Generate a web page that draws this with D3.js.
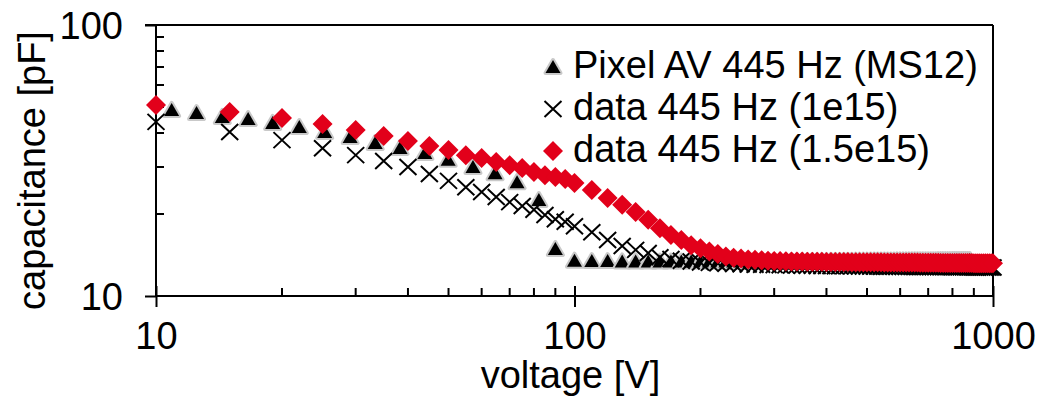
<!DOCTYPE html>
<html>
<head>
<meta charset="utf-8">
<script src="https://cdn.jsdelivr.net/npm/d3@7"></script>
<style>
  body { margin: 0; background: #fff; }
  svg { display: block; }
  text { font-family: "Liberation Sans", Arial, sans-serif; fill: #000; }
</style>
</head>
<body>
<svg id="chart" width="1049" height="406"></svg>
<script>
// ---- data -------------------------------------------------------------
const seriesNames = ["Pixel AV 445 Hz (MS12)", "data 445 Hz (1e15)", "data 445 Hz (1.5e15)"];
const xTickLabels = ["10", "100", "1000"];
const yTickLabels = ["10", "100"];
const xMajorTicks = [10, 100, 1000];
const xMinorTicks = [20, 30, 40, 50, 60, 70, 80, 90, 200, 300, 400, 500, 600, 700, 800, 900];
const yMajorTicks = [10, 100];
const yMinorTicks = [20, 30, 40, 50, 60, 70, 80, 90];

// measured pixel (MS12) sweep
const pixelVoltage = [
  10.9, 12.5, 14.4, 16.6, 19.0, 22.0, 25.3, 29.1, 33.4, 38.3, 43.9, 49.9, 57.2, 64.6, 72.9, 82.2,
  90, 100, 110, 120, 130, 140, 150, 160, 170, 180,
  190, 200, 210, 220, 230, 240, 250, 260, 270, 280,
  290, 300, 310, 320, 330, 340, 350, 360, 370, 380,
  390, 400, 410, 420, 430, 440, 450, 460, 470, 480,
  490, 500, 510, 520, 530, 540, 550, 560, 570, 580,
  590, 600, 610, 620, 630, 640, 650, 660, 670, 680,
  690, 700, 710, 720, 730, 740, 750, 760, 770, 780,
  790, 800, 810, 820, 830, 840, 850, 860, 870, 880
];
const pixelCap = [
  48.6, 47.3, 45.8, 45.0, 43.5, 42.0, 40.3, 38.6, 36.7, 35.2, 33.7, 31.8, 29.9, 28.4, 26.3, 22.6,
  14.9, 13.5, 13.45, 13.45, 13.42, 13.42, 13.4, 13.4, 13.4, 13.4,
  13.4, 13.41, 13.4, 13.41, 13.42, 13.42, 13.42, 13.43, 13.43, 13.43,
  13.44, 13.44, 13.44, 13.45, 13.45, 13.45, 13.46, 13.46, 13.46, 13.47,
  13.47, 13.47, 13.48, 13.48, 13.48, 13.49, 13.49, 13.49, 13.5, 13.5,
  13.5, 13.5, 13.51, 13.51, 13.51, 13.51, 13.52, 13.52, 13.52, 13.52,
  13.53, 13.53, 13.53, 13.53, 13.53, 13.54, 13.54, 13.54, 13.54, 13.54,
  13.55, 13.55, 13.55, 13.55, 13.55, 13.56, 13.56, 13.56, 13.56, 13.56,
  13.56, 13.57, 13.57, 13.57, 13.57, 13.57, 13.57, 13.58, 13.58, 13.58
];

// simulated sweeps (shared voltage grid)
const dataVoltage = [
  10, 15, 20, 25, 30, 35, 40, 45, 50, 55, 60, 65, 70, 75, 80, 85, 90, 95,
  100, 110, 120, 130, 140, 150, 160, 170, 180, 190, 200,
  210, 220, 230, 240, 250, 260, 270, 280, 290, 300,
  310, 320, 330, 340, 350, 360, 370, 380, 390, 400,
  410, 420, 430, 440, 450, 460, 470, 480, 490, 500,
  510, 520, 530, 540, 550, 560, 570, 580, 590, 600,
  610, 620, 630, 640, 650, 660, 670, 680, 690, 700,
  710, 720, 730, 740, 750, 760, 770, 780, 790, 800,
  810, 820, 830, 840, 850, 860, 870, 880, 890, 900,
  910, 920, 930, 940, 950, 960, 970, 980, 990, 1000
];
const cap1e15 = [
  43.9, 40.3, 37.6, 35.1, 33.1, 31.5, 29.9, 28.2, 26.6, 25.2, 24.2, 23.2, 22.2, 21.5, 20.8, 19.9, 19.2, 18.8,
  18.1, 17.2, 16.1, 15.3, 14.8, 14.4, 13.9, 13.7, 13.5, 13.4, 13.3,
  13.25, 13.2, 13.15, 13.12, 13.1, 13.07, 13.05, 13.03, 13.01, 13.0,
  12.98, 12.97, 12.96, 12.95, 12.94, 12.93, 12.92, 12.91, 12.9, 12.9,
  12.89, 12.88, 12.88, 12.87, 12.87, 12.86, 12.86, 12.85, 12.85, 12.85,
  12.84, 12.84, 12.84, 12.83, 12.83, 12.83, 12.82, 12.82, 12.82, 12.82,
  12.81, 12.81, 12.81, 12.81, 12.8, 12.8, 12.8, 12.8, 12.8, 12.79,
  12.79, 12.79, 12.79, 12.79, 12.78, 12.78, 12.78, 12.78, 12.78, 12.77,
  12.77, 12.77, 12.77, 12.77, 12.76, 12.76, 12.76, 12.76, 12.76, 12.75,
  12.75, 12.75, 12.75, 12.75, 12.74, 12.74, 12.74, 12.74, 12.74, 12.73
];
const cap15e15 = [
  50.7, 47.7, 45.4, 43.1, 41.0, 38.9, 37.3, 35.8, 34.6, 33.1, 32.3, 31.2, 30.4, 29.7, 28.7, 27.9, 27.5, 27.0,
  26.1, 24.6, 23.0, 21.7, 20.4, 19.1, 17.8, 16.8, 16.1, 15.4, 15.0,
  14.6, 14.3, 14.0, 13.85, 13.75, 13.65, 13.6, 13.55, 13.5, 13.47,
  13.45, 13.44, 13.42, 13.41, 13.4, 13.39, 13.38, 13.38, 13.37, 13.36,
  13.36, 13.35, 13.35, 13.34, 13.34, 13.33, 13.33, 13.33, 13.32, 13.32,
  13.32, 13.31, 13.31, 13.31, 13.3, 13.3, 13.3, 13.3, 13.29, 13.29,
  13.29, 13.29, 13.28, 13.28, 13.28, 13.28, 13.27, 13.27, 13.27, 13.27,
  13.26, 13.26, 13.26, 13.26, 13.25, 13.25, 13.25, 13.25, 13.25, 13.24,
  13.24, 13.24, 13.24, 13.24, 13.23, 13.23, 13.23, 13.23, 13.23, 13.22,
  13.22, 13.22, 13.22, 13.22, 13.21, 13.21, 13.21, 13.21, 13.2, 13.2
];

// ---- layout -----------------------------------------------------------
const svg = d3.select("#chart");
const plotLeft = 156, plotRight = 993, plotTop = 25, plotBottom = 296;
const FONT = 38;
const FAMILY = '"Liberation Sans", Arial, sans-serif';
const RED = "#e2001a";

const x = d3.scaleLog().domain([10, 1000]).range([plotLeft, plotRight]);
const y = d3.scaleLog().domain([10, 100]).range([plotBottom, plotTop]);

// marker shapes
const triPath = "M0,-7L7.5,6L-7.5,6Z";
const crossPath = "M-8.5,-8L8.5,8M-8.5,8L8.5,-8";
const diamondPath = d3.symbol(d3.symbolSquare, 200)();

function drawTriangle(sel) {
  sel.attr("d", triPath)
    .attr("fill", "#000")
    .attr("stroke", "#c9c9c9")
    .attr("stroke-width", 4)
    .attr("stroke-linejoin", "round")
    .style("paint-order", "stroke");
}
function drawCross(sel) {
  sel.attr("d", crossPath).attr("fill", "none").attr("stroke", "#000").attr("stroke-width", 2);
}
function drawDiamond(sel) {
  sel.attr("d", diamondPath).attr("fill", RED).attr("stroke", "none");
}

// ---- frame and ticks --------------------------------------------------
const frame = svg.append("g");
frame.append("line").attr("x1", plotLeft - 11).attr("x2", plotRight).attr("y1", plotTop).attr("y2", plotTop)
  .attr("stroke", "#000").attr("stroke-width", 2);
frame.append("line").attr("x1", plotRight).attr("x2", plotRight).attr("y1", plotTop).attr("y2", plotBottom)
  .attr("stroke", "#000").attr("stroke-width", 2);

// bottom axis: major ticks cross the axis line, labels below
const xAxis = d3.axisBottom(x).tickValues(xMajorTicks).tickSize(11).tickPadding(0)
  .tickFormat((d, i) => xTickLabels[i]);
const gx = svg.append("g").attr("transform", `translate(0,${plotBottom})`).call(xAxis);
gx.select(".domain").attr("stroke-width", 2).attr("d", `M${plotLeft},0H${plotRight}`);
gx.selectAll(".tick line").attr("stroke-width", 2).attr("y1", -10);
gx.selectAll(".tick text").attr("y", 53).attr("dy", null)
  .style("font-size", FONT + "px").style("font-family", FAMILY).attr("fill", "#000");

// left axis
const yAxis = d3.axisLeft(y).tickValues(yMajorTicks).tickSize(11).tickPadding(0)
  .tickFormat((d, i) => yTickLabels[i]);
const gy = svg.append("g").attr("transform", `translate(${plotLeft},0)`).call(yAxis);
gy.select(".domain").attr("stroke-width", 2).attr("d", `M0,${plotTop}V${plotBottom}`);
gy.selectAll(".tick line").attr("stroke-width", 2);
gy.selectAll(".tick text").attr("x", -33).attr("dy", "0.36em")
  .style("font-size", FONT + "px").style("font-family", FAMILY).attr("fill", "#000");

// minor ticks pointing into the plot
svg.append("g").selectAll("line").data(xMinorTicks).join("line")
  .attr("x1", d => x(d)).attr("x2", d => x(d))
  .attr("y1", plotBottom).attr("y2", plotBottom - 8)
  .attr("stroke", "#000").attr("stroke-width", 2);
svg.append("g").selectAll("line").data(yMinorTicks).join("line")
  .attr("x1", plotLeft).attr("x2", plotLeft + 8)
  .attr("y1", d => Math.round(y(d))).attr("y2", d => Math.round(y(d)))
  .attr("stroke", "#000").attr("stroke-width", 2);

// axis titles
svg.append("text").attr("x", (plotLeft + plotRight) / 2 - 4).attr("y", 388)
  .attr("text-anchor", "middle").style("font-size", FONT + "px").text("voltage [V]");
svg.append("text").attr("transform", `translate(45,${(plotTop + plotBottom) / 2 + 10}) rotate(-90)`)
  .attr("text-anchor", "middle").style("font-size", FONT + "px").text("capacitance [pF]");

// ---- series -----------------------------------------------------------
const plot = svg.append("g");

plot.append("g").selectAll("path").data(pixelVoltage.map((v, i) => [v, pixelCap[i]])).join("path")
  .attr("transform", d => `translate(${x(d[0])},${y(d[1])})`)
  .call(drawTriangle);

plot.append("g").selectAll("path").data(dataVoltage.map((v, i) => [v, cap1e15[i]])).join("path")
  .attr("transform", d => `translate(${x(d[0])},${y(d[1])})`)
  .call(drawCross);

plot.append("g").selectAll("path").data(dataVoltage.map((v, i) => [v, cap15e15[i]])).join("path")
  .attr("transform", d => `translate(${x(d[0])},${y(d[1])}) rotate(45)`)
  .call(drawDiamond);

// ---- legend -----------------------------------------------------------
const legend = svg.append("g");
const legendRows = [
  { name: seriesNames[0], draw: drawTriangle, rot: 0 },
  { name: seriesNames[1], draw: drawCross, rot: 0 },
  { name: seriesNames[2], draw: drawDiamond, rot: 45 }
];
legendRows.forEach((r, i) => {
  const by = 78 + i * 42;
  legend.append("path")
    .attr("transform", `translate(553,${by - 11}) rotate(${r.rot})`)
    .call(r.draw);
  legend.append("text").attr("x", 573).attr("y", by)
    .style("font-size", FONT + "px").text(r.name);
});
</script>
</body>
</html>
